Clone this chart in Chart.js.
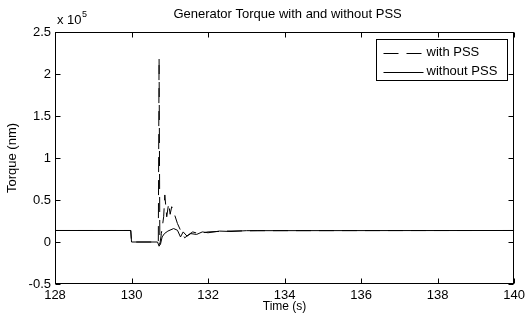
<!DOCTYPE html>
<html>
<head>
<meta charset="utf-8">
<script src="https://cdn.jsdelivr.net/npm/chart.js@4.4.1/dist/chart.umd.min.js"></script>
<style>
html, body { margin: 0; padding: 0; background: #fff; }
canvas { display: block; }
</style>
</head>
<body>
<canvas id="torqueChart" width="529" height="322"></canvas>
<script>
// ==================== DATA ====================
const CHART_TITLE = 'Generator Torque with and without PSS';
const X_LABEL = 'Time (s)';
const Y_LABEL = 'Torque (nm)';
const SERIES_LABELS = ['with PSS', 'without PSS'];

const X_TICKS = [128, 130, 132, 134, 136, 138, 140];
const Y_TICKS = [-50000, 0, 50000, 100000, 150000, 200000, 250000];

// with PSS (dashed)
const withPssTime = [128, 129.98, 130.0, 130.7, 130.72, 130.74, 130.78, 130.84, 130.87, 130.92, 130.97, 131.01, 131.05, 131.1, 131.2, 131.3, 131.39, 131.5, 131.6, 131.75, 132.0, 132.5, 133.3, 140];
const withPssTorque = [13700, 13700, 0, 0, 219000, -3000, 10000, 30000, 56000, 30000, 46000, 33000, 42000, 36000, 22000, 12000, 5000, 9000, 12000, 10000, 12000, 13000, 13500, 13700];

// without PSS (solid)
const withoutPssTime = [128, 129.98, 130.0, 130.68, 130.72, 130.76, 130.8, 130.86, 130.95, 131.1, 131.2, 131.28, 131.35, 131.45, 131.55, 131.7, 131.85, 132.0, 132.3, 132.6, 133.0, 140];
const withoutPssTorque = [13700, 13700, 0, 0, -5000, -2000, 6000, 10000, 13000, 16000, 14000, 6000, 12000, 7000, 10000, 9000, 12000, 11000, 13000, 12500, 13500, 13700];

// ==================== STYLE ====================
const FONT = "'Liberation Sans', Arial, sans-serif";
const INK = '#000';
const DASH = [15, 8];

const toPoints = (xs, ys) => xs.map((x, i) => ({ x: x, y: ys[i] }));

// frame, inward ticks, exponent label, title and boxed legend
const matlabFrame = {
    id: 'matlabFrame',
    afterDraw(chart) {
        const { ctx, chartArea: a, scales: { x, y } } = chart;
        const tickLen = 5;
        ctx.save();
        ctx.strokeStyle = INK;
        ctx.lineWidth = 1;
        ctx.setLineDash([]);

        const L = Math.round(a.left) + 0.5, R = Math.round(a.right) - 0.5;
        const T = Math.round(a.top) + 0.5, B = Math.round(a.bottom) - 0.5;
        ctx.strokeRect(L, T, R - L, B - T);

        ctx.beginPath();
        X_TICKS.forEach(v => {
            const px = Math.round(x.getPixelForValue(v)) + 0.5;
            ctx.moveTo(px, B); ctx.lineTo(px, B - tickLen);
            ctx.moveTo(px, T); ctx.lineTo(px, T + tickLen);
        });
        Y_TICKS.forEach(v => {
            const py = Math.round(y.getPixelForValue(v)) + 0.5;
            ctx.moveTo(L, py); ctx.lineTo(L + tickLen, py);
            ctx.moveTo(R, py); ctx.lineTo(R - tickLen, py);
        });
        ctx.stroke();

        // title
        ctx.fillStyle = INK;
        ctx.font = '13px ' + FONT;
        ctx.textAlign = 'center';
        ctx.textBaseline = 'alphabetic';
        ctx.fillText(CHART_TITLE, (a.left + a.right) / 2 + 3, 18);

        // x 10^5 multiplier
        ctx.textAlign = 'left';
        ctx.font = '13px ' + FONT;
        ctx.fillText('x 10', a.left + 2, 24);
        ctx.font = '9px ' + FONT;
        ctx.fillText('5', a.left + 27, 17);

        // legend box
        const bw = 131, bh = 41;
        const bx = Math.round(a.right) - 7 - bw + 0.5;
        const by = Math.round(a.top) + 7 + 0.5;
        ctx.fillStyle = '#fff';
        ctx.fillRect(bx, by, bw, bh);
        ctx.strokeRect(bx, by, bw, bh);

        const rows = [
            { text: SERIES_LABELS[0], dash: DASH, y: by + 13 },
            { text: SERIES_LABELS[1], dash: [], y: by + 32 }
        ];
        ctx.font = '13px ' + FONT;
        ctx.textBaseline = 'middle';
        rows.forEach(r => {
            ctx.beginPath();
            ctx.setLineDash(r.dash);
            ctx.moveTo(bx + 7, Math.round(r.y) + 0.5);
            ctx.lineTo(bx + 47, Math.round(r.y) + 0.5);
            ctx.stroke();
            ctx.fillStyle = INK;
            ctx.fillText(r.text, bx + 50, r.y);
        });
        ctx.restore();
    }
};

const fmtY = v => String(Math.round(v / 10000) / 10);

new Chart(document.getElementById('torqueChart'), {
    type: 'line',
    data: {
        datasets: [{
            label: SERIES_LABELS[0],
            data: toPoints(withPssTime, withPssTorque),
            borderColor: INK,
            borderWidth: 1,
            borderDash: DASH,
            pointRadius: 0,
            tension: 0,
            fill: false,
            order: 2
        }, {
            label: SERIES_LABELS[1],
            data: toPoints(withoutPssTime, withoutPssTorque),
            borderColor: INK,
            borderWidth: 1,
            pointRadius: 0,
            tension: 0,
            fill: false,
            order: 1
        }]
    },
    options: {
        responsive: false,
        animation: false,
        layout: { padding: { top: 32, right: 10, left: 0, bottom: 0 } },
        plugins: {
            legend: { display: false },
            title: { display: false },
            tooltip: { enabled: false }
        },
        scales: {
            x: {
                type: 'linear',
                min: 128,
                max: 140,
                afterBuildTicks: s => { s.ticks = X_TICKS.map(v => ({ value: v })); },
                afterFit: s => { s.height = 38; },
                grid: { display: false, drawTicks: false, tickLength: 0 },
                border: { display: false },
                ticks: {
                    color: INK,
                    padding: 4,
                    maxRotation: 0,
                    font: { family: FONT, size: 13 }
                },
                title: {
                    display: true,
                    text: X_LABEL,
                    color: INK,
                    font: { family: FONT, size: 12 },
                    padding: { top: 0, bottom: 8 }
                }
            },
            y: {
                type: 'linear',
                min: -50000,
                max: 250000,
                afterBuildTicks: s => { s.ticks = Y_TICKS.map(v => ({ value: v })); },
                afterFit: s => { s.width = 55; },
                grid: { display: false, drawTicks: false, tickLength: 0 },
                border: { display: false },
                ticks: {
                    color: INK,
                    padding: 4,
                    font: { family: FONT, size: 13 },
                    callback: v => fmtY(v)
                },
                title: {
                    display: true,
                    text: Y_LABEL,
                    color: INK,
                    font: { family: FONT, size: 13 },
                    padding: { top: 5, bottom: 0 }
                }
            }
        }
    },
    plugins: [matlabFrame]
});
</script>
</body>
</html>
